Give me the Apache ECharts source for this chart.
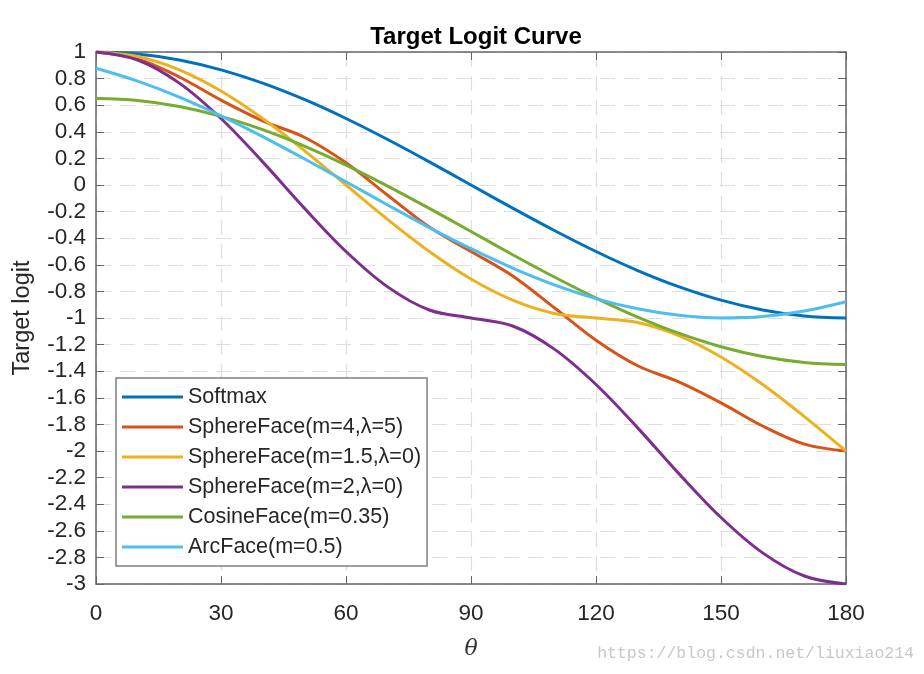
<!DOCTYPE html>
<html><head><meta charset="utf-8">
<script src="https://cdn.jsdelivr.net/npm/echarts@6/dist/echarts.min.js"></script>
<style>html,body{margin:0;padding:0;background:#fff}#c{width:924px;height:674px}</style>
</head><body><div id="c"></div>
<script>
var theta = [0,10,20,30,40,50,60,70,80,90,100,110,120,130,140,150,160,170,180];
var softmax = [1,0.985,0.94,0.866,0.766,0.643,0.5,0.342,0.174,0,-0.174,-0.342,-0.5,-0.643,-0.766,-0.866,-0.94,-0.985,-1];
var sphere4 = [1,0.948,0.812,0.638,0.482,0.359,0.167,-0.077,-0.316,-0.5,-0.684,-0.923,-1.167,-1.359,-1.482,-1.638,-1.812,-1.948,-2];
var sphere15 = [1,0.966,0.866,0.707,0.5,0.259,0,-0.259,-0.5,-0.707,-0.866,-0.966,-1,-1.034,-1.134,-1.293,-1.5,-1.741,-2];
var sphere2 = [1,0.94,0.766,0.5,0.174,-0.174,-0.5,-0.766,-0.94,-1,-1.06,-1.234,-1.5,-1.826,-2.174,-2.5,-2.766,-2.94,-3];
var cosine = [0.65,0.635,0.59,0.516,0.416,0.293,0.15,-0.008,-0.176,-0.35,-0.524,-0.692,-0.85,-0.993,-1.116,-1.216,-1.29,-1.335,-1.35];
var arc = [0.878,0.781,0.661,0.52,0.364,0.197,0.024,-0.15,-0.32,-0.479,-0.625,-0.751,-0.854,-0.931,-0.98,-1,-0.989,-0.948,-0.878];
var names = ['Softmax','SphereFace(m=4,\u03bb=5)','SphereFace(m=1.5,\u03bb=0)','SphereFace(m=2,\u03bb=0)','CosineFace(m=0.35)','ArcFace(m=0.5)'];
var colors = ['#0072BD','#D95319','#EDB120','#7E2F8E','#77AC30','#4DBEEE'];

function pairs(v){ return theta.map(function(t,i){ return [t, v[i]]; }); }
var allData = [softmax, sphere4, sphere15, sphere2, cosine, arc];
var FONT = 'Liberation Sans, Arial, sans-serif';
var axisCol = '#666';

var chart = echarts.init(document.getElementById('c'), null, {renderer:'canvas'});
chart.setOption({
  animation:false,
  backgroundColor:'#fff',
  title:{text:'Target Logit Curve', left:471, top:20, textAlign:'center',
    textStyle:{fontFamily:FONT, fontSize:24, fontWeight:'bold', color:'#000'}},
  grid:{left:96, right:78, top:52, bottom:90},
  legend:{orient:'vertical', left:116, top:378, data:names,
    icon:'rect', itemWidth:61, itemHeight:3, itemGap:8,
    padding:[8,6,8,6], borderColor:'#7f7f7f', borderWidth:1.5, backgroundColor:'#fff',
    textStyle:{fontFamily:FONT, fontSize:21.5, color:'#262626'}},
  xAxis:[{type:'value', min:0, max:180, interval:30, position:'bottom',
      name:'\u03b8', nameLocation:'middle', nameGap:54,
      nameTextStyle:{fontFamily:'DejaVu Serif, serif', fontStyle:'italic', fontSize:22, color:'#333'},
      axisLine:{show:true, onZero:false, lineStyle:{color:axisCol, width:1.5}},
      axisTick:{inside:true, length:8, lineStyle:{color:axisCol}},
      axisLabel:{fontFamily:FONT, fontSize:22.5, color:'#262626', margin:18},
      splitLine:{show:true, lineStyle:{color:'#dedede', type:[15,9], width:1.2}}},
    {type:'value', min:0, max:180, interval:30, position:'top',
      axisLine:{show:true, onZero:false, lineStyle:{color:axisCol, width:1.5}},
      axisTick:{inside:true, length:8, lineStyle:{color:axisCol}},
      axisLabel:{show:false}, splitLine:{show:false}}],
  yAxis:[{type:'value', min:-3, max:1, interval:0.2, position:'left',
      name:'Target logit', nameLocation:'middle', nameGap:61, nameRotate:90,
      nameTextStyle:{fontFamily:FONT, fontSize:23.5, color:'#262626'},
      axisLine:{show:true, onZero:false, lineStyle:{color:axisCol, width:1.5}},
      axisTick:{show:true, inside:true, length:8, lineStyle:{color:axisCol}},
      axisLabel:{fontFamily:FONT, fontSize:22.5, color:'#262626', margin:10,
        formatter:function(v){ return String(Math.round(v*10)/10); }},
      splitLine:{show:true, lineStyle:{color:'#dedede', type:[15,9], width:1.2}}},
    {type:'value', min:-3, max:1, interval:0.2, position:'right',
      axisLine:{show:true, onZero:false, lineStyle:{color:axisCol, width:1.5}},
      axisTick:{show:true, inside:true, length:8, lineStyle:{color:axisCol}},
      axisLabel:{show:false}, splitLine:{show:false}}],
  series: names.map(function(n,i){
    return {name:n, type:'line', data:pairs(allData[i]), smooth:0.35, symbol:'none',
      xAxisIndex:0, yAxisIndex:0,
      lineStyle:{color:colors[i], width:3}, itemStyle:{color:colors[i]}};
  }),
  graphic:[{type:'text', right:10, top:645,
    style:{text:'https://blog.csdn.net/liuxiao214', fill:'#c8c8c8',
      font:'16.5px "Liberation Mono", "DejaVu Sans Mono", monospace'}}]
});
</script></body></html>
